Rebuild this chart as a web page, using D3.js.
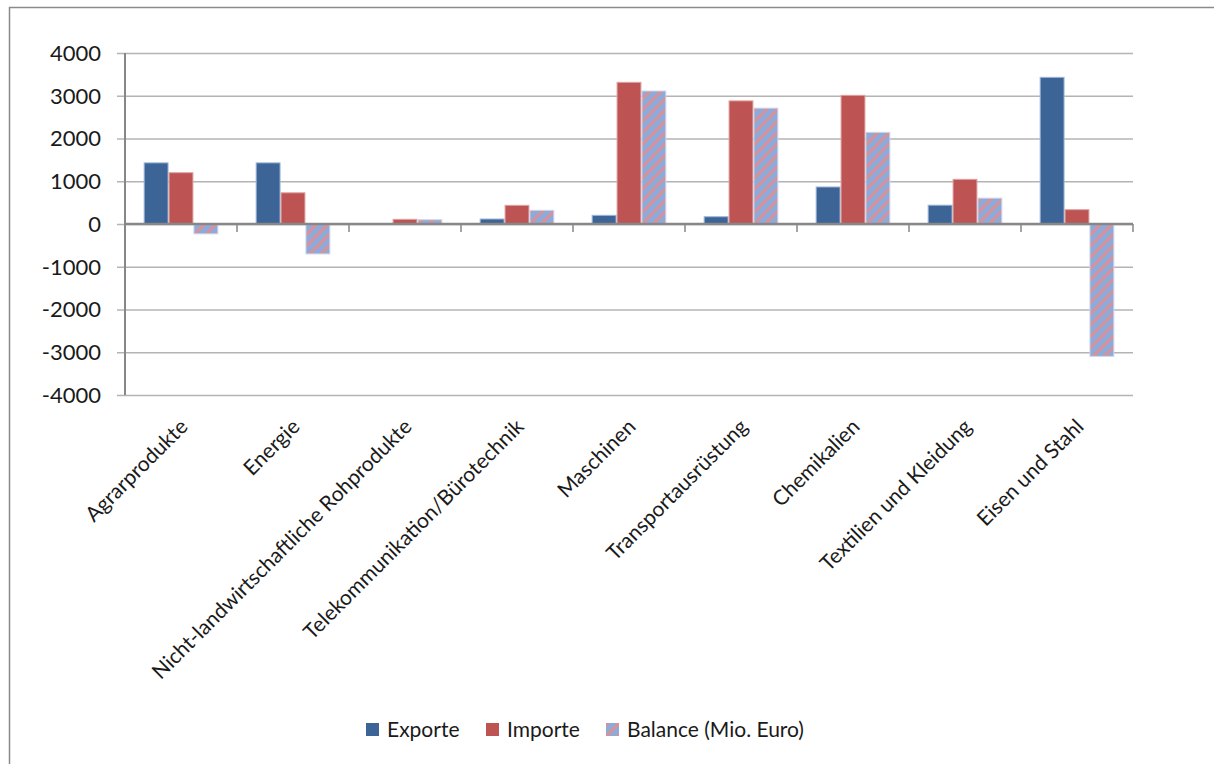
<!DOCTYPE html>
<html>
<head>
<meta charset="utf-8">
<script src="https://cdn.jsdelivr.net/npm/d3@7"></script>
<style>
  body { margin: 0; background: #fff; }
  text { font-family: Lato, "DejaVu Sans", sans-serif; fill: #1a1a1a; }
  .grid line { stroke: #b4b4b4; stroke-width: 1.5; }
  .grid path { display: none; }
</style>
</head>
<body>
<script>
// Data (Mio. Euro)
var categories = ["Agrarprodukte", "Energie", "Nicht-landwirtschaftliche Rohprodukte",
  "Telekommunikation/Bürotechnik", "Maschinen", "Transportausrüstung",
  "Chemikalien", "Textilien und Kleidung", "Eisen und Stahl"];
var exporte = [1430, 1430, 10, 117, 203, 170, 866, 440, 3431];
var importe = [1200, 730, 110, 437, 3314, 2880, 3010, 1045, 335];
var balance = [-230, -700, 100, 320, 3111, 2710, 2144, 605, -3096];
var seriesNames = ["Exporte", "Importe", "Balance (Mio. Euro)"];
var yTicks = [-4000, -3000, -2000, -1000, 0, 1000, 2000, 3000, 4000];

var W = 1214, H = 764;
var margin = { top: 53, left: 125, right: 81, bottom: 369 };
var width = W - margin.left - margin.right,
    height = H - margin.top - margin.bottom;

var svg = d3.select("body").append("svg")
  .attr("width", W)
  .attr("height", H);

// pattern for the balance series
var defs = svg.append("defs");
var pat = defs.append("pattern")
  .attr("id", "hatch")
  .attr("patternUnits", "userSpaceOnUse")
  .attr("width", 8).attr("height", 8)
  .attr("patternTransform", "rotate(45)");
pat.append("rect").attr("width", 8).attr("height", 8).attr("fill", "#8eaad8");
pat.append("rect").attr("width", 3).attr("height", 8).attr("fill", "#d8919a");

// outer frame
svg.append("rect")
  .attr("x", 9.5).attr("y", 7.5)
  .attr("width", W + 20).attr("height", H + 20)
  .attr("fill", "none")
  .attr("stroke", "#8a8a8a")
  .attr("stroke-width", 1.5);

var g = svg.append("g")
  .attr("transform", "translate(" + margin.left + "," + margin.top + ")");

var x0 = d3.scaleBand().domain(categories).range([0, width]).paddingInner(0).paddingOuter(0);
var x1 = d3.scaleBand().domain(seriesNames).range([0, x0.bandwidth()]).paddingInner(0).paddingOuter(0.75);
var y = d3.scaleLinear().domain([-4000, 4000]).range([height, 0]);

var color = { "Exporte": "#3c6497", "Importe": "#bd5352", "Balance (Mio. Euro)": "url(#hatch)" };
var edge = { "Exporte": "#9fb6d8", "Importe": "#e0a3a3", "Balance (Mio. Euro)": "#c9d6ee" };

// gridlines, reaching 8px left of the axis
var grid = g.append("g")
  .attr("class", "grid")
  .attr("transform", "translate(" + width + ",0)")
  .call(d3.axisLeft(y).tickValues(yTicks).tickSize(width + 8).tickFormat(""));

// y axis labels
g.append("g")
  .selectAll("text")
  .data(yTicks)
  .enter().append("text")
  .attr("x", -24)
  .attr("y", function (d) { return y(d); })
  .attr("dy", "0.36em")
  .attr("text-anchor", "end")
  .style("font-size", "22px")
  .text(function (d) { return d; });

// bars
var table = categories.map(function (c, i) {
  return { cat: c, values: [
    { key: "Exporte", value: exporte[i] },
    { key: "Importe", value: importe[i] },
    { key: "Balance (Mio. Euro)", value: balance[i] }
  ] };
});

var groups = g.selectAll(".grp")
  .data(table)
  .enter().append("g")
  .attr("class", "grp")
  .attr("transform", function (d) { return "translate(" + x0(d.cat) + ",0)"; });

groups.selectAll("rect")
  .data(function (d) { return d.values; })
  .enter().append("rect")
  .attr("x", function (d) { return x1(d.key) + 0.5; })
  .attr("width", x1.bandwidth() - 1)
  .attr("y", function (d) { return y(Math.max(0, d.value)); })
  .attr("height", function (d) { return Math.abs(y(d.value) - y(0)); })
  .attr("fill", function (d) { return color[d.key]; })
  .attr("stroke", function (d) { return edge[d.key]; })
  .attr("stroke-width", 1);

// zero axis with category ticks
var xAxis = g.append("g")
  .attr("transform", "translate(0," + y(0) + ")");
xAxis.append("line")
  .attr("x1", 0).attr("x2", width)
  .attr("stroke", "#878787").attr("stroke-width", 2.5);
xAxis.selectAll(".tk")
  .data(categories)
  .enter().append("line")
  .attr("x1", function (d) { return x0(d) + x0.bandwidth(); })
  .attr("x2", function (d) { return x0(d) + x0.bandwidth(); })
  .attr("y1", 0).attr("y2", 8)
  .attr("stroke", "#878787").attr("stroke-width", 1.5);

// y axis line
g.append("line")
  .attr("x1", 0).attr("x2", 0)
  .attr("y1", 0).attr("y2", height)
  .attr("stroke", "#878787").attr("stroke-width", 2);

// category labels, rotated
g.selectAll(".cat")
  .data(categories)
  .enter().append("text")
  .attr("class", "cat")
  .attr("text-anchor", "end")
  .style("font-size", "21px")
  .attr("transform", function (d) {
    return "translate(" + (x0(d) + x0.bandwidth() / 2 + 8) + "," + (height + 33) + ") rotate(-45)";
  })
  .text(function (d) { return d; });

// legend
var legendX = [366, 486, 606];
var legend = svg.append("g")
  .selectAll("g")
  .data(seriesNames)
  .enter().append("g")
  .attr("transform", function (d, i) { return "translate(" + legendX[i] + ",723)"; });
legend.append("rect")
  .attr("width", 13).attr("height", 13)
  .attr("fill", function (d) { return color[d]; });
legend.append("text")
  .attr("x", 21).attr("y", 14)
  .style("font-size", "21px")
  .text(function (d) { return d; });
</script>
</body>
</html>
